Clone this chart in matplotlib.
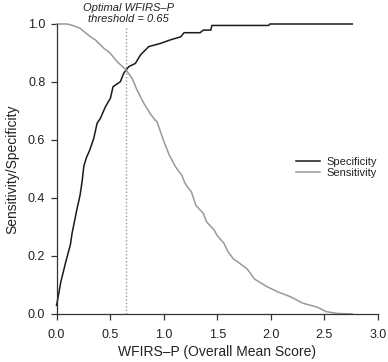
import matplotlib
matplotlib.use("Agg")
import matplotlib.pyplot as plt

plt.rcParams['font.family'] = ['Liberation Sans', 'DejaVu Sans']

# Specificity curve (black)
spec_x = [0.0, 0.006, 0.04, 0.084, 0.13, 0.146, 0.19, 0.22, 0.24, 0.255, 0.28, 0.31,
          0.348, 0.379, 0.41, 0.457, 0.503, 0.528, 0.596, 0.627, 0.674, 0.736, 0.783,
          0.86, 0.97, 1.06, 1.16, 1.19, 1.34, 1.37, 1.44, 1.45, 1.98, 1.99, 2.76]
spec_y = [0.03, 0.04, 0.11, 0.176, 0.24, 0.28, 0.36, 0.41, 0.46, 0.51, 0.54, 0.565,
          0.606, 0.658, 0.675, 0.715, 0.744, 0.784, 0.801, 0.83, 0.853, 0.864, 0.893,
          0.922, 0.933, 0.945, 0.956, 0.97, 0.97, 0.979, 0.979, 0.995, 0.995, 1.0, 1.0]

# Sensitivity curve (gray)
sens_x = [0.0, 0.1, 0.15, 0.22, 0.27, 0.317, 0.363, 0.44, 0.5, 0.566, 0.643, 0.705,
          0.752, 0.814, 0.876, 0.92, 0.938, 1.0, 1.05, 1.11, 1.17, 1.2, 1.26, 1.3,
          1.37, 1.4, 1.47, 1.5, 1.56, 1.6, 1.65, 1.68, 1.78, 1.85, 1.96, 2.06, 2.18,
          2.3, 2.43, 2.52, 2.62, 2.76]
sens_y = [1.0, 1.0, 0.995, 0.985, 0.97, 0.956, 0.945, 0.917, 0.9, 0.87, 0.844, 0.813,
          0.772, 0.727, 0.69, 0.669, 0.663, 0.597, 0.55, 0.508, 0.478, 0.45, 0.42, 0.375,
          0.347, 0.318, 0.29, 0.27, 0.245, 0.215, 0.19, 0.183, 0.155, 0.12, 0.095, 0.077,
          0.06, 0.037, 0.024, 0.008, 0.002, 0.0]

threshold = 0.65
x_ticks = [0.0, 0.5, 1.0, 1.5, 2.0, 2.5, 3.0]
y_ticks = [0.0, 0.2, 0.4, 0.6, 0.8, 1.0]

fig = plt.figure(figsize=(3.88, 3.62), dpi=100)
ax = fig.add_axes([56.5/388, 1-314/362, 321.5/388, 290/362])

ax.plot(spec_x, spec_y, color='#1a1a1a', lw=1.1, label='Specificity', clip_on=False)
ax.plot(sens_x, sens_y, color='#999999', lw=1.1, label='Sensitivity', clip_on=False)
ax.plot([threshold, threshold], [0, 0.99], color='#999999', lw=1.0,
        linestyle=(0, (1, 1.5)), clip_on=False)

ax.text(threshold + 0.02, 1.045, 'Optimal WFIRS\u2013P', ha='center', va='baseline',
        fontsize=8, style='italic', color='#222222')
ax.text(threshold + 0.02, 1.007, 'threshold = 0.65', ha='center', va='baseline',
        fontsize=8, style='italic', color='#222222')

ax.set_xlim(0, 3.0)
ax.set_ylim(0, 1.0)
ax.set_xticks(x_ticks)
ax.set_xticklabels(['%.1f' % v for v in x_ticks])
ax.set_yticks(y_ticks)
ax.set_yticklabels(['%.1f' % v for v in y_ticks])

for s in ['top', 'right']:
    ax.spines[s].set_visible(False)
for s in ['left', 'bottom']:
    ax.spines[s].set_color('#333333')
    ax.spines[s].set_linewidth(0.9)

ax.tick_params(axis='both', direction='out', length=4.3, width=0.9, color='#333333',
               labelsize=9, labelcolor='#222222')
ax.tick_params(axis='x', pad=6.5)
ax.tick_params(axis='y', pad=3.8)

ax.set_xlabel('WFIRS\u2013P (Overall Mean Score)', fontsize=10, color='#222222', labelpad=3)
ax.set_ylabel('Sensitivity/Specificity', fontsize=10, color='#222222', labelpad=6)

ax.legend(loc='upper left', bbox_to_anchor=(0.745, 0.541), bbox_transform=ax.transAxes,
          frameon=False, fontsize=8, handlelength=2.15, handletextpad=0.55,
          labelspacing=0.1, borderpad=0, borderaxespad=0, labelcolor='#222222')

fig.savefig('out.png', dpi=100)
